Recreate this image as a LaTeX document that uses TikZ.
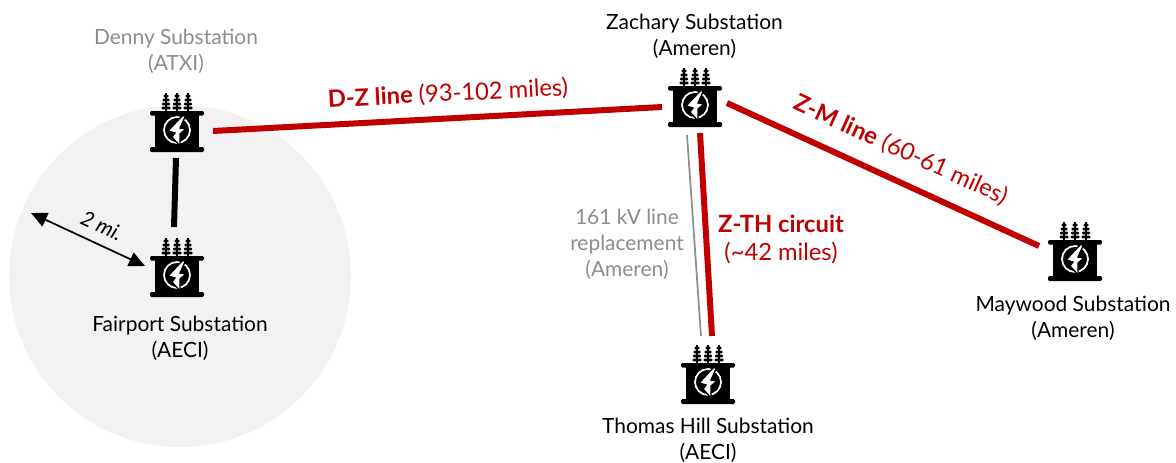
\documentclass[tikz,border=0pt]{standalone}
\usepackage{fontspec}
\setmainfont{Lato}
\usetikzlibrary{calc,arrows.meta}
\definecolor{redline}{HTML}{C00000}
\definecolor{greytxt}{HTML}{8C8C8C}
\definecolor{disc}{HTML}{F2F2F2}
\tikzset{
  x=0.75pt,y=-0.75pt,
  lbl/.style={font=\fontsize{15.7}{19.5}\selectfont,align=center,inner sep=0pt,text=black},
  glbl/.style={lbl,text=greytxt},
  rlbl/.style={font=\fontsize{17.8}{21}\selectfont,align=center,inner sep=0pt,text=redline},
  hub/.style={minimum width=54*0.75pt,minimum height=60*0.75pt,inner sep=0pt,draw=none},
  redwire/.style={draw=redline,line width=4.5pt},
  blackwire/.style={draw=black,line width=4.5pt},
  greywire/.style={draw=greytxt,line width=1.3pt},
  pics/xformer/.style={code={
    \fill[black] (-22,-15) rectangle (22,22);
    \fill[black,rounded corners=1pt] (-27,-19) rectangle (27,-14.5);
    \fill[black,rounded corners=1pt] (-27,17) rectangle (27,22);
    \foreach \ix in {-11,0,11}{
      \fill[black] (\ix-1,-37) rectangle (\ix+1,-18);
      \fill[black,rounded corners=0.8pt] (\ix-2.5,-35.4) rectangle (\ix+2.5,-32.6);
      \fill[black,rounded corners=0.8pt] (\ix-3.5,-31.4) rectangle (\ix+3.5,-28.6);
      \fill[black,rounded corners=0.8pt] (\ix-4,-27.4) rectangle (\ix+4,-24.6);
      \fill[black,rounded corners=0.8pt] (\ix-4.5,-23.4) rectangle (\ix+4.5,-20.6);
    }
    \draw[white,line width=1.3pt] (0,0) circle (13);
    \fill[white,draw=black,line width=1pt,line join=miter] (6,-15) -- (-9,1) -- (-2,3) -- (-5,7) -- (3,16) -- (3,4) -- (9,-1) -- (3,-2) -- (8,-13) -- cycle;
  }}
}
\begin{document}
\begin{tikzpicture}
\useasboundingbox (0,0) rectangle (1176,462);
\fill[disc] (180,276) circle (171);

\node[hub] (denny) at (177,130) {};
\node[hub] (fairport) at (177,275) {};
\node[hub] (zachary) at (695,105) {};
\node[hub] (maywood) at (1075,259) {};
\node[hub] (thomas) at (708,382) {};
\pic at (denny) {xformer};
\pic at (fairport) {xformer};
\pic at (zachary) {xformer};
\pic at (maywood) {xformer};
\pic at (thomas) {xformer};

\coordinate (dzA) at ($(denny)+(36,1)$);
\coordinate (dzB) at ($(zachary)+(-33,2)$);
\coordinate (dfA) at ($(denny)+(-1,28)$);
\coordinate (dfB) at ($(fairport)+(-3,-48)$);
\coordinate (zmA) at ($(zachary)+(32,-2)$);
\coordinate (zmB) at ($(maywood)+(-36,-13)$);
\coordinate (ztA) at ($(zachary)+(5,28)$);
\coordinate (ztB) at ($(thomas)+(4,-46)$);
\coordinate (zgA) at ($(zachary)+(-8,30)$);
\coordinate (zgB) at ($(thomas)+(-7,-46)$);
\coordinate (arrA) at (31,213);

\draw[redwire] (dzA) -- (dzB);
\draw[blackwire] (dfA) -- (dfB);
\draw[redwire] (zmA) -- (zmB);
\draw[redwire] (ztA) -- (ztB);
\draw[greywire] (zgA) -- (zgB);
\draw[black,line width=1.3pt,{Triangle[length=12pt,width=11pt]}-{Triangle[length=12pt,width=11pt]}] (arrA) -- ($(fairport)+(-32,-9)$);

\node[glbl] (dennyt) at (176,51) {Denny Substation\\(ATXI)};
\node[lbl] (zacht) at (694.5,36) {Zachary Substation\\(Ameren)};
\node[lbl] (fairt) at (180,338) {Fairport Substation\\(AECI)};
\node[lbl] (thomt) at (708,440) {Thomas Hill Substation\\(AECI)};
\node[lbl] (mayt) at (1073,318) {Maywood Substation\\(Ameren)};
\node[glbl] (repl) at (627,244) {161 kV line\\replacement\\(Ameren)};
\node[rlbl] (zth) at (781,239) {\textbf{Z-TH circuit}\\(\textasciitilde42 miles)};
\node[rlbl,rotate=3] (dz) at (448,94) {\textbf{D-Z line} (93-102 miles)};
\node[rlbl,rotate=-24.5] (zm) at (901,150) {\textbf{Z-M line} (60-61 miles)};
\node[lbl,rotate=-25] (two) at (102,226) {\textit{2 mi.}};
\end{tikzpicture}
\end{document}
